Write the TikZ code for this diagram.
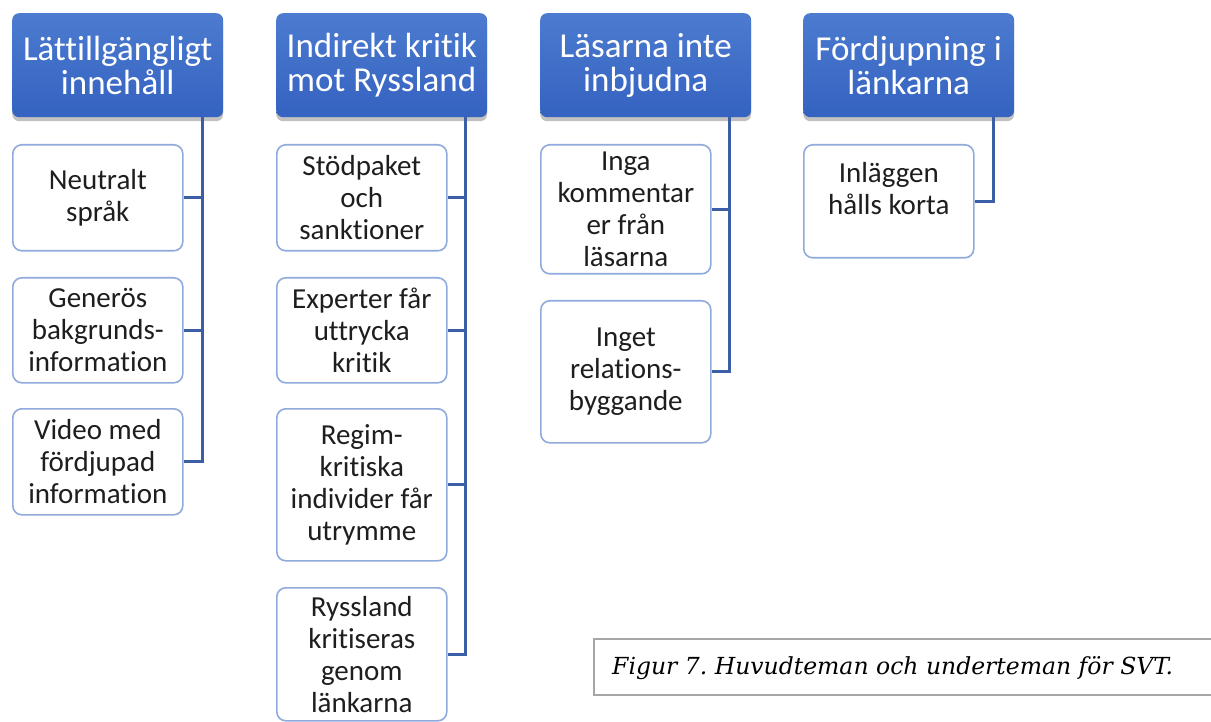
\documentclass[tikz,border=0pt]{standalone}
\usepackage{fontspec}
\setmainfont[Ligatures=NoCommon]{Carlito}
\newfontfamily\capfont{DejaVu Serif}
\usetikzlibrary{shadows,calc}
\definecolor{hdtop}{HTML}{4C7BD0}
\definecolor{hdbot}{HTML}{3462C0}
\definecolor{boxline}{HTML}{8FAADC}
\definecolor{conncol}{HTML}{3B5EA6}
\definecolor{txt}{HTML}{1E1E1E}
\definecolor{capline}{HTML}{A6A6A6}
\tikzset{
  header/.style={rectangle, rounded corners=7pt, anchor=north west,
    minimum width=211pt, minimum height=104pt, inner sep=0pt,
    top color=hdtop, bottom color=hdbot, text=white, align=center,
    font=\fontsize{35}{34}\selectfont,
    drop shadow={shadow xshift=0pt, shadow yshift=-4pt, opacity=0.35, fill=black!70}},
  subbox/.style={rectangle, rounded corners=9pt, anchor=north west,
    draw=boxline, line width=1.6pt, fill=white, minimum width=170pt,
    inner sep=0pt, text=txt, align=center, font=\fontsize{29}{32}\selectfont},
  conn/.style={draw=conncol, line width=3pt},
}
\frenchspacing
\begin{document}
\begin{tikzpicture}[x=1pt,y=-1pt]
\useasboundingbox (0,0) rectangle (1211,722);
% headers
\node[header] (h1) at (12,13) {Lättillgängligt\\innehåll};
\node[header] (h2) at (276,13) {Indirekt kritik\\mot Ryssland};
\node[header] (h3) at (540,13) {Läsarna inte\\inbjudna};
\node[header] (h4) at (803,13) {Fördjupning i\\länkarna};
% column 1
\node[subbox, minimum height=106pt] (c11) at (12,144) {Neutralt\\språk};
\node[subbox, minimum height=105pt] (c12) at (12,277) {Generös\\bakgrunds-\\information};
\node[subbox, minimum height=106pt] (c13) at (12,408) {Video med\\fördjupad\\information};
% column 2
\node[subbox, minimum height=106pt] (c21) at (276,144) {Stödpaket\\och\\sanktioner};
\node[subbox, minimum height=105pt] (c22) at (276,277) {Experter får\\uttrycka\\kritik};
\node[subbox, minimum height=152pt] (c23) at (276,408) {Regim-\\kritiska\\individer får\\utrymme};
\node[subbox, minimum height=133pt] (c24) at (276,587) {Ryssland\\kritiseras\\genom\\länkarna};
% column 3
\node[subbox, minimum height=129pt] (c31) at (540,144) {Inga\\kommentar\\er från\\läsarna};
\node[subbox, minimum height=142pt] (c32) at (540,300) {Inget\\relations-\\byggande};
% column 4
\node[subbox, minimum height=113pt] (c41) at (803,144) {};
\node[font=\fontsize{29}{32}\selectfont, text=txt, align=center] (t41)
  at ($(c41.center)+(0,-13)$) {Inläggen\\hålls korta};
% trunk coordinates
\coordinate (v1) at ($(h1.south east)+(-21,0)$);
\coordinate (v2) at ($(h2.south east)+(-22,0)$);
\coordinate (v3) at ($(h3.south east)+(-22,0)$);
\coordinate (v4) at ($(h4.south east)+(-21,0)$);
% connectors
\draw[conn] (v1) |- (c13.east);
\draw[conn] (c11.east) -- (c11.east -| v1);
\draw[conn] (c12.east) -- (c12.east -| v1);
\draw[conn] (v2) |- (c24.east);
\draw[conn] (c21.east) -- (c21.east -| v2);
\draw[conn] (c22.east) -- (c22.east -| v2);
\draw[conn] (c23.east) -- (c23.east -| v2);
\draw[conn] (v3) |- (c32.east);
\draw[conn] (c31.east) -- (c31.east -| v3);
\draw[conn] (v4) |- (c41.east);
% caption
\node[draw=capline, line width=2pt, anchor=north west, minimum width=630pt,
  minimum height=56pt, inner sep=0pt] (cap) at (593,638) {};
\node[anchor=base west, font=\capfont\itshape\fontsize{23.5}{28}\selectfont, inner sep=0pt] (captext)
  at (612,674) {Figur 7. Huvudteman och underteman för SVT.};
\end{tikzpicture}
\end{document}
